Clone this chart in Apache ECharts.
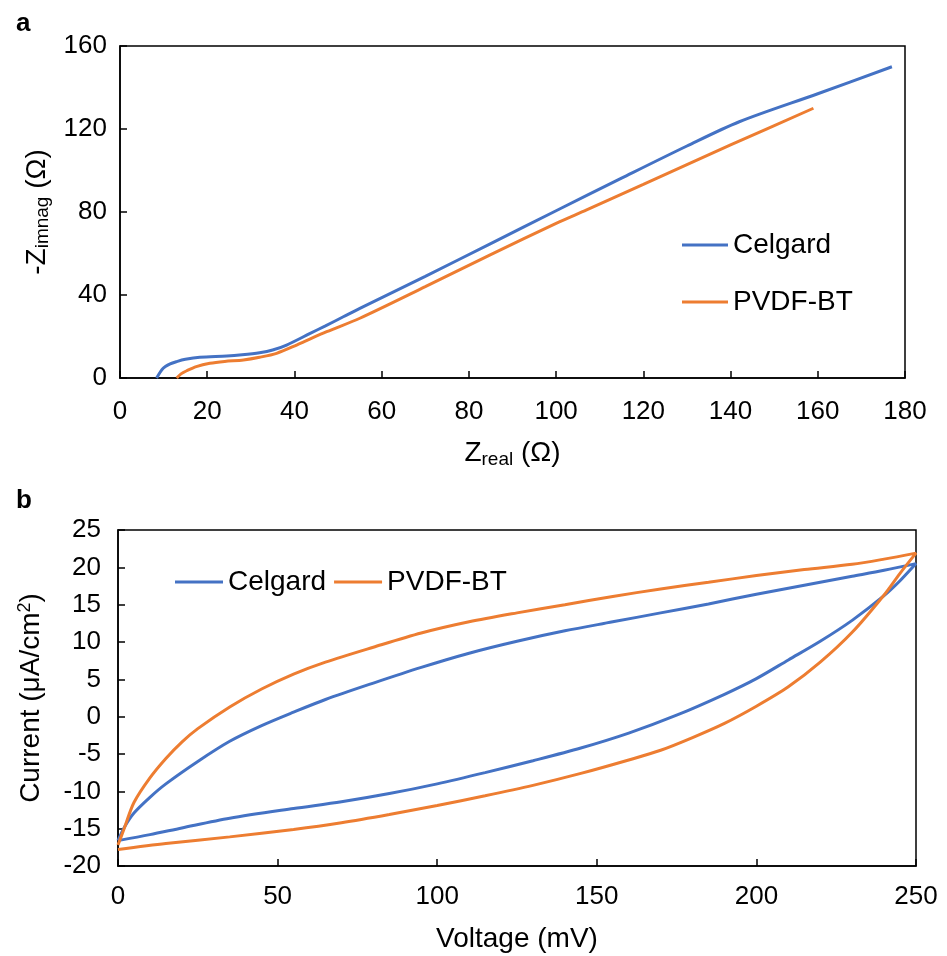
<!DOCTYPE html>
<html>
<head>
<meta charset="utf-8">
<script src="https://cdn.jsdelivr.net/npm/echarts@6/dist/echarts.min.js"></script>
<style>
html,body{margin:0;padding:0;background:#fff;}
#chart{width:947px;height:956px;}
</style>
</head>
<body>
<div id="chart"></div>
<script>
// ---- Panel a: Nyquist (EIS) ----
const celgardZre = [8.4,9.9,11.5,13,15,18.3,24.5,28,32,35,38.2,43.6,47,51.2,55,70,85,100,115,130,142,160,177];
const celgardZim = [0,4.7,6.8,7.9,9.0,10.0,10.6,11.2,12.2,13.5,15.9,21.5,25,29.5,33.6,49,64.8,80.6,96.3,111.8,123.5,137,150];
const pvdfZre = [13,14,15.3,17.5,20.6,24,28.3,32,35.9,40.5,47.4,55,70,85,100,107,120,140,159];
const pvdfZim = [0,2,3.5,5.5,7.1,8.0,8.7,10,11.9,15.9,22.3,28.8,44,59.5,74.5,81,93.3,112.3,130];

// ---- Panel b: cyclic voltammetry loops (forward branch 0→250, then return 250→0) ----
const celgardV = [0,10,20,35,55,70,85,100,115,130,145,160,175,190,200,210,220,230,240,245,250,
                  240,230,215,200,185,170,155,140,125,110,95,80,65,55,45,35,25,15,10,5,2,0];
const celgardI = [-16.6,-15.8,-14.9,-13.6,-12.3,-11.4,-10.3,-9.0,-7.5,-5.9,-4.2,-2.2,0.2,3.0,5.1,7.6,10.1,12.9,16.2,18.2,20.5,
                  19.6,18.8,17.6,16.4,15.1,13.9,12.7,11.5,10.1,8.5,6.6,4.5,2.3,0.6,-1.2,-3.3,-6.0,-9.0,-10.8,-12.9,-14.8,-16.6];
const pvdfV = [0,15,35,55,70,85,100,115,130,145,160,170,180,190,200,210,220,230,240,245,250,
               240,230,215,200,185,170,155,140,125,110,95,80,65,55,45,35,25,20,15,10,5,2,0];
const pvdfI = [-17.8,-17.0,-16.1,-15.1,-14.2,-13.1,-11.9,-10.6,-9.2,-7.6,-5.8,-4.5,-2.8,-0.9,1.4,4.0,7.3,11.3,16.3,19.2,21.9,
               21.1,20.4,19.7,18.9,18.0,17.1,16.1,15.0,13.9,12.7,11.2,9.3,7.3,5.7,3.7,1.3,-1.6,-3.4,-5.6,-8.2,-11.5,-14.9,-17.2];

const seriesNames = ['Celgard','PVDF-BT'];
const colors = ['#4472C4','#ED7D31'];

function zip(a,b){return a.map((v,i)=>[v,b[i]]);}

const FONT = '"Liberation Sans", Arial, sans-serif';
const chart = echarts.init(document.getElementById('chart'), null, {renderer:'canvas'});

const axisCommon = {
  axisLine:{show:true,onZero:false,lineStyle:{color:'#000',width:1.5}},
  axisTick:{show:true,inside:true,length:7,lineStyle:{color:'#000',width:1.5}},
  splitLine:{show:false}
};
const subRich = {sub:{fontSize:19,verticalAlign:'bottom',padding:[12,0,0,0],fontFamily:FONT,color:'#000'}};

const option = {
  animation:false,
  backgroundColor:'#fff',
  color:colors,
  title:[
    {text:'a',left:11,top:6,textStyle:{fontSize:26,fontWeight:'bold',color:'#000',fontFamily:FONT}},
    {text:'b',left:11,top:483,textStyle:{fontSize:26,fontWeight:'bold',color:'#000',fontFamily:FONT}}
  ],
  legend:[
    {data:seriesNames,orient:'vertical',left:677,top:226,icon:'rect',itemWidth:46,itemHeight:3,itemGap:29,
     textStyle:{fontSize:28,color:'#000',fontFamily:FONT}},
    {data:seriesNames,orient:'horizontal',left:170,top:563,icon:'rect',itemWidth:48,itemHeight:3,itemGap:8,
     textStyle:{fontSize:28,color:'#000',fontFamily:FONT}}
  ],
  grid:[
    {left:120,right:42,top:46,height:332,show:true,borderColor:'#000',borderWidth:1.5},
    {left:118,right:31,top:530,height:336,show:true,borderColor:'#000',borderWidth:1.5}
  ],
  xAxis:[
    Object.assign({},axisCommon,{gridIndex:0,type:'value',min:0,max:180,interval:20,
      name:'Z{sub|real} (Ω)',nameLocation:'middle',nameGap:60,
      nameTextStyle:{color:'#000',fontSize:28,fontFamily:FONT,rich:subRich},
      axisLabel:{color:'#000',fontSize:26,fontFamily:FONT,margin:21}}),
    Object.assign({},axisCommon,{gridIndex:1,type:'value',min:0,max:250,interval:50,
      name:'Voltage (mV)',nameLocation:'middle',nameGap:59,
      nameTextStyle:{color:'#000',fontSize:28,fontFamily:FONT},
      axisLabel:{color:'#000',fontSize:26,fontFamily:FONT,margin:18}})
  ],
  yAxis:[
    Object.assign({},axisCommon,{gridIndex:0,type:'value',min:0,max:160,interval:40,
      name:'-Z{sub|imnag} (Ω)',nameLocation:'middle',nameGap:48,nameRotate:90,
      nameTextStyle:{color:'#000',fontSize:28,fontFamily:FONT,rich:subRich},
      axisLabel:{color:'#000',fontSize:26,fontFamily:FONT,margin:13}}),
    Object.assign({},axisCommon,{gridIndex:1,type:'value',min:-20,max:25,interval:5,
      name:'Current (μA/cm{sup|2})',nameLocation:'middle',nameGap:72,nameRotate:90,
      nameTextStyle:{color:'#000',fontSize:28,fontFamily:FONT,rich:{sup:{fontSize:18,verticalAlign:'top',padding:[0,0,12,0],fontFamily:FONT,color:'#000'}}},
      axisLabel:{color:'#000',fontSize:26,fontFamily:FONT,margin:17}})
  ],
  series:[
    {name:'Celgard',type:'line',xAxisIndex:0,yAxisIndex:0,data:zip(celgardZre,celgardZim),symbol:'none',smooth:0.3,
     lineStyle:{width:3,color:colors[0]},itemStyle:{color:colors[0]}},
    {name:'PVDF-BT',type:'line',xAxisIndex:0,yAxisIndex:0,data:zip(pvdfZre,pvdfZim),symbol:'none',smooth:0.3,
     lineStyle:{width:3,color:colors[1]},itemStyle:{color:colors[1]}},
    {name:'Celgard',type:'line',xAxisIndex:1,yAxisIndex:1,data:zip(celgardV,celgardI),symbol:'none',smooth:0.3,
     lineStyle:{width:3,color:colors[0]},itemStyle:{color:colors[0]}},
    {name:'PVDF-BT',type:'line',xAxisIndex:1,yAxisIndex:1,data:zip(pvdfV,pvdfI),symbol:'none',smooth:0.3,
     lineStyle:{width:3,color:colors[1]},itemStyle:{color:colors[1]}}
  ]
};
chart.setOption(option);
</script>
</body>
</html>
